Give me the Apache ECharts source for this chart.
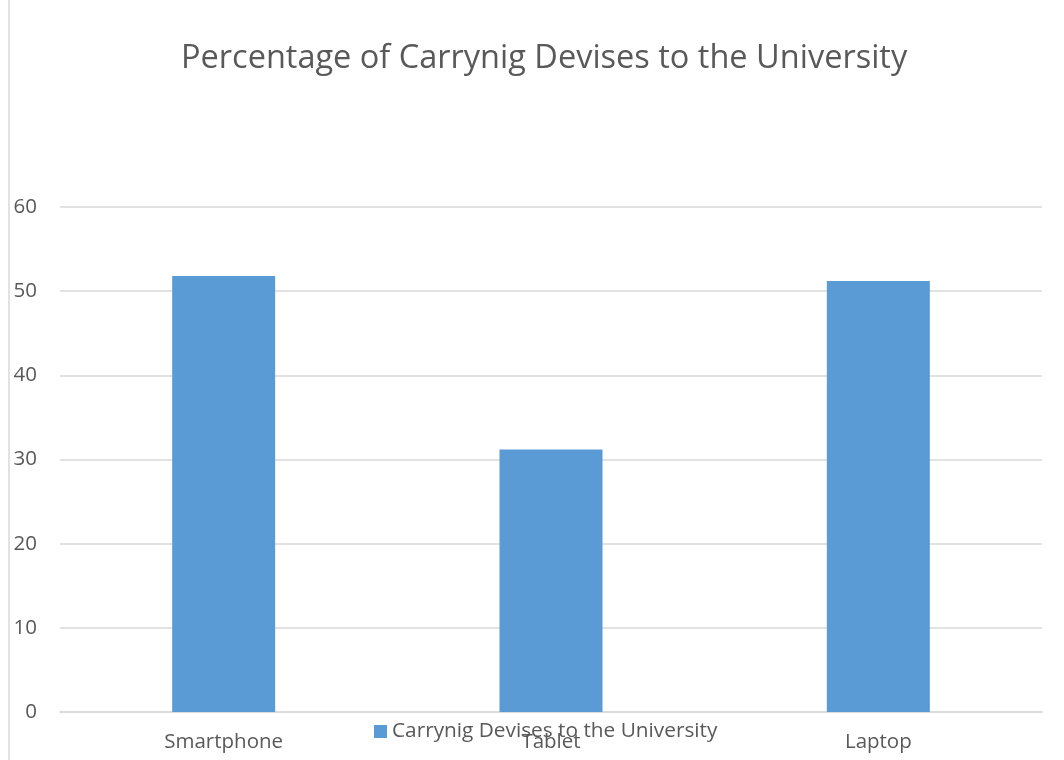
<!DOCTYPE html>
<html>
<head>
<meta charset="utf-8">
<script src="https://cdn.jsdelivr.net/npm/echarts@6/dist/echarts.min.js"></script>
<style>
  html, body { margin: 0; padding: 0; background: #fff; }
  #chart { width: 1064px; height: 760px; }
</style>
</head>
<body>
<div id="chart"></div>
<script>
// 数据
const categories = ['Smartphone', 'Tablet', 'Laptop'];
const values = [51.8, 31.2, 51.2];
const yTicks = { min: 0, max: 60, interval: 10 };
const seriesName = 'Carrynig Devises to the University';
const titleText = 'Percentage of Carrynig Devises to the University';

const chart = echarts.init(document.getElementById('chart'));
const textColor = '#595959';
const fontFamily = '"Open Sans", "Noto Sans", sans-serif';

chart.setOption({
    animation: false,
    textStyle: { fontFamily: fontFamily },
    title: {
        text: titleText,
        left: 176,
        top: 37,
        textStyle: { fontSize: 32.5, fontWeight: 'normal', color: textColor, fontFamily: fontFamily }
    },
    legend: {
        top: 716,
        left: 369,
        itemWidth: 13,
        itemHeight: 13,
        itemGap: 7,
        icon: 'rect',
        textStyle: { fontSize: 20.8, color: textColor, fontFamily: fontFamily },
        data: [seriesName]
    },
    grid: { left: 60, right: 22, top: 207, bottom: 48 },
    xAxis: {
        type: 'category',
        data: categories,
        axisLine: { lineStyle: { color: '#d9d9d9', width: 1.5 } },
        axisTick: { show: false },
        axisLabel: { fontSize: 20.5, color: textColor, margin: 20 }
    },
    yAxis: {
        type: 'value',
        min: yTicks.min,
        max: yTicks.max,
        interval: yTicks.interval,
        axisLine: { show: false },
        axisTick: { show: false },
        splitLine: { lineStyle: { color: '#d9d9d9', width: 1.5 } },
        axisLabel: { fontSize: 20.5, color: textColor, margin: 23 }
    },
    graphic: [{
        type: 'line',
        shape: { x1: 9, y1: 0, x2: 9, y2: 760 },
        style: { stroke: '#d9d9d9', lineWidth: 1.5 }
    }],
    series: [{
        name: seriesName,
        type: 'bar',
        data: values,
        barWidth: 103,
        itemStyle: { color: '#5b9bd5' }
    }]
});
</script>
</body>
</html>
